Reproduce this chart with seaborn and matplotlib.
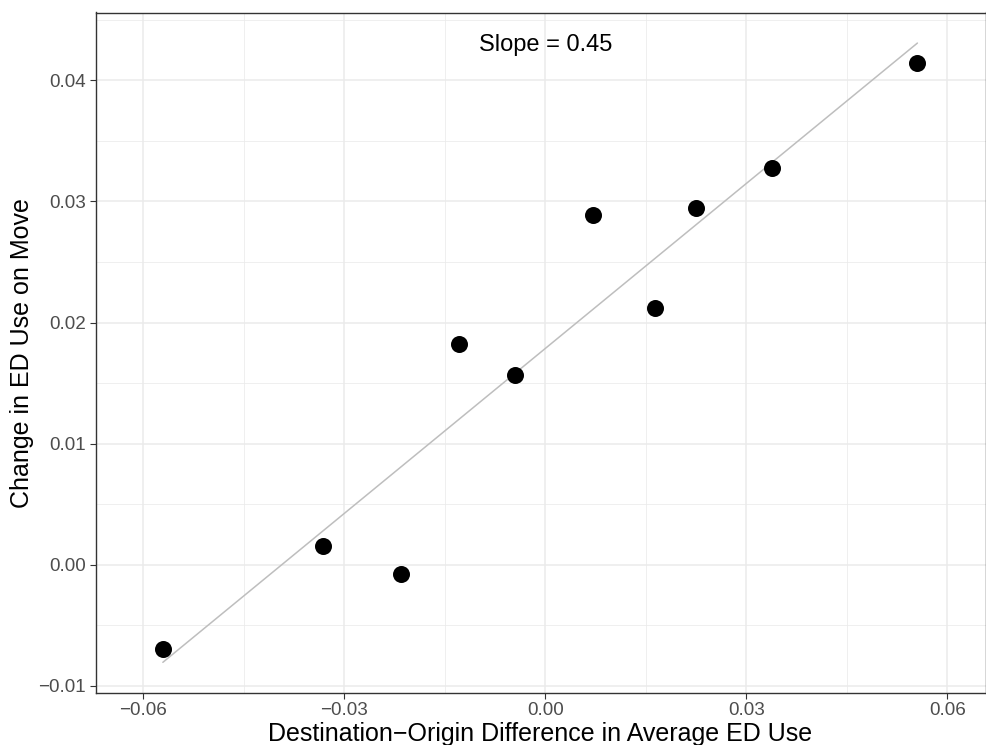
import numpy as np
import pandas as pd
import seaborn as sns
import matplotlib
matplotlib.use("Agg")
import matplotlib.pyplot as plt
from matplotlib.ticker import FixedLocator, FuncFormatter

# Data
dest_origin_diff = [-0.05705, -0.03313, -0.02154, -0.01289, -0.00454,
                    0.00710, 0.01634, 0.02245, 0.03385, 0.05554]
change_ed_use = [-0.00696, 0.00154, -0.00077, 0.01822, 0.01567,
                 0.02888, 0.02120, 0.02946, 0.03273, 0.04140]
fit_slope = 0.4542
fit_intercept = 0.01785
slope_label = "Slope = 0.45"
x_ticks = [-0.06, -0.03, 0.00, 0.03, 0.06]
y_ticks = [-0.01, 0.00, 0.01, 0.02, 0.03, 0.04]

df = pd.DataFrame({"x": dest_origin_diff, "y": change_ed_use})
xr = np.array([min(dest_origin_diff), max(dest_origin_diff)])
line_df = pd.DataFrame({"x": xr, "y": fit_intercept + fit_slope * xr})

sns.set_style("white")
plt.rcParams["font.family"] = ["Liberation Sans", "DejaVu Sans"]
plt.rcParams["axes.unicode_minus"] = True

fig = plt.figure(figsize=(9.86, 7.45), dpi=100)
ax = fig.add_axes([95.5 / 986, 1 - 692.7 / 745, 890 / 986, (692.7 - 12.5) / 745])

sns.lineplot(data=line_df, x="x", y="y", ax=ax, color="#BEBEBE", linewidth=1.1, zorder=2)
sns.scatterplot(data=df, x="x", y="y", ax=ax, color="black", s=150,
                edgecolor="black", linewidth=0, zorder=3)

ax.set_xlim(-0.0671, 0.0657)
ax.set_ylim(-0.01057, 0.0456)

fmt = FuncFormatter(lambda v, p: f"{v:.2f}".replace("-", "\u2212") if abs(v) > 1e-12 else "0.00")
ax.xaxis.set_major_locator(FixedLocator(x_ticks))
ax.yaxis.set_major_locator(FixedLocator(y_ticks))
ax.xaxis.set_minor_locator(FixedLocator([-0.045, -0.015, 0.015, 0.045]))
ax.yaxis.set_minor_locator(FixedLocator([-0.005, 0.005, 0.015, 0.025, 0.035, 0.045]))
ax.xaxis.set_major_formatter(fmt)
ax.yaxis.set_major_formatter(fmt)

ax.grid(True, which="major", color="#EBEBEB", linewidth=1.1, zorder=0)
ax.grid(True, which="minor", color="#EBEBEB", linewidth=0.55, zorder=0)
ax.set_axisbelow(True)

ax.tick_params(axis="both", which="major", length=4, width=0.8, color="#333333",
               labelcolor="#4D4D4D", labelsize=13.6, direction="out", pad=3,
               bottom=True, left=True)
ax.tick_params(axis="both", which="minor", length=0)

for sp in ax.spines.values():
    sp.set_visible(True)
    sp.set_color("#333333")
    sp.set_linewidth(1.0)

ax.set_xlabel("Destination\u2212Origin Difference in Average ED Use", fontsize=18,
              color="black", labelpad=2)
ax.set_ylabel("Change in ED Use on Move", fontsize=18, color="black", labelpad=3)

ax.text(0.0, 0.0429, slope_label, fontsize=17, ha="center", va="center", color="black")

fig.savefig("out.png", dpi=100)
